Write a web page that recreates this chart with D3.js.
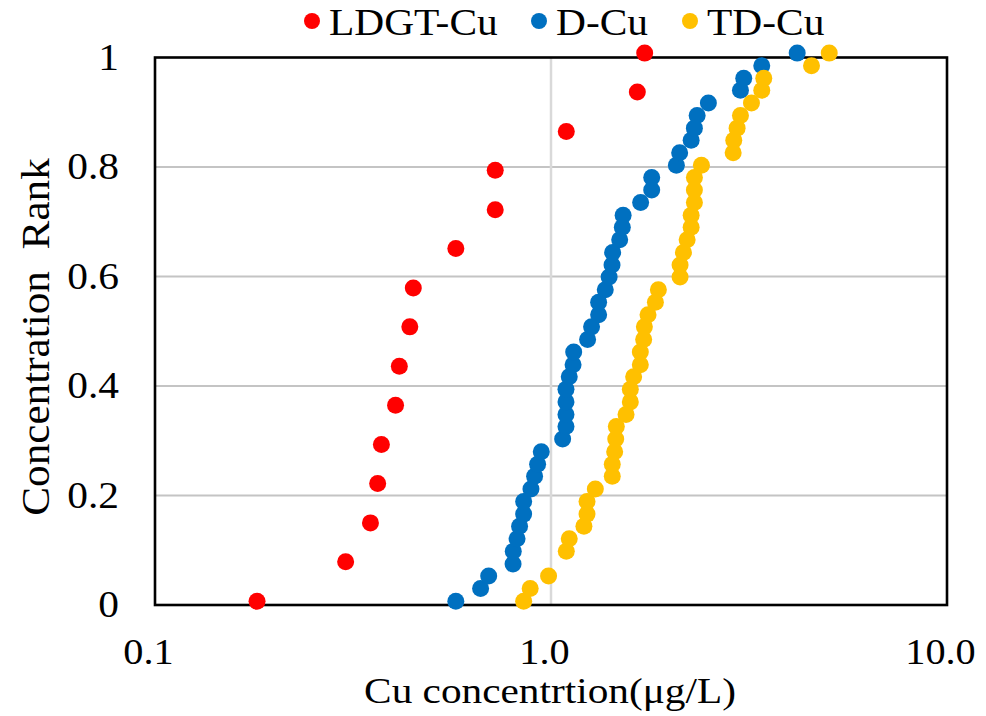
<!DOCTYPE html>
<html>
<head>
<meta charset="utf-8">
<script src="https://cdnjs.cloudflare.com/ajax/libs/d3/7.8.5/d3.min.js"></script>
<style>
  body { margin: 0; background: #fff; }
  text { font-family: "Liberation Serif", "Times New Roman", serif; fill: #000; }
</style>
</head>
<body>
<svg id="chart"></svg>
<script>
//DATA (concentration in ug/L, rank 0..1)
const ldgtConc = [0.181, 0.303, 0.350, 0.365, 0.373, 0.405, 0.414, 0.440, 0.449, 0.575, 0.723, 0.723, 1.093, 1.652, 1.724];
const ldgtRank = [0.007, 0.079, 0.150, 0.222, 0.293, 0.365, 0.436, 0.508, 0.579, 0.651, 0.722, 0.794, 0.865, 0.937, 1.008];

const dConc = [0.575, 0.664, 0.696, 0.802, 0.803, 0.821, 0.833, 0.853, 0.853, 0.890, 0.909, 0.925, 0.945,
               1.070, 1.091, 1.091, 1.091, 1.091, 1.112, 1.137, 1.141,
               1.237, 1.266, 1.319, 1.319, 1.371, 1.402, 1.426, 1.431, 1.491, 1.514, 1.521,
               1.684, 1.796, 1.796, 2.073, 2.113, 2.259, 2.302, 2.339, 2.497, 3.009, 3.067, 3.406, 4.185];
const dRank = [0.007, 0.030, 0.053, 0.075, 0.098, 0.121, 0.144, 0.166, 0.189, 0.212, 0.235, 0.257, 0.280,
               0.303, 0.326, 0.348, 0.371, 0.394, 0.417, 0.439, 0.462, 0.485, 0.508, 0.530, 0.553, 0.576,
               0.599, 0.621, 0.644, 0.667, 0.690, 0.712, 0.735, 0.758, 0.781, 0.803, 0.826, 0.849, 0.871,
               0.894, 0.917, 0.940, 0.962, 0.985, 1.008];

const tdConc = [0.853, 0.886, 0.986, 1.093, 1.112, 1.211, 1.233, 1.233, 1.294,
                1.428, 1.428, 1.448, 1.457, 1.462,
                1.547, 1.586, 1.586, 1.617, 1.681, 1.681, 1.714, 1.721, 1.758, 1.835, 1.867,
                2.118, 2.118, 2.160, 2.207, 2.259, 2.259, 2.302, 2.302, 2.302, 2.398,
                2.884, 2.894, 2.951, 3.009, 3.208, 3.406, 3.446, 4.548, 5.042];
const tdRank = [0.007, 0.030, 0.053, 0.098, 0.121, 0.144, 0.166, 0.189, 0.212, 0.235, 0.257, 0.280,
                0.303, 0.326, 0.348, 0.371, 0.394, 0.417, 0.439, 0.462, 0.485, 0.508, 0.530, 0.553, 0.576,
                0.599, 0.621, 0.644, 0.667, 0.690, 0.712, 0.735, 0.758, 0.781, 0.803, 0.826, 0.849, 0.871,
                0.894, 0.917, 0.940, 0.962, 0.985, 1.008];

const seriesNames = ["LDGT-Cu", "D-Cu", "TD-Cu"];
const xTicks = [0.1, 1, 10];
const xTickLabels = ["0.1", "1.0", "10.0"];
const yTicks = [0, 0.2, 0.4, 0.6, 0.8, 1];
const yTickLabels = ["0", "0.2", "0.4", "0.6", "0.8", "1"];

//SET CONSTANTS
const width = 986;
const height = 716;
const plot = {left: 155, right: 947, top: 57.5, bottom: 605};
const colors = ["#FF0000", "#0070C0", "#FFC000"];
const stretch = 1.12;   // the original glyphs are a bit wider than Times
const dotR = 8.5;

const svg = d3.select("#chart")
  .attr("width", width)
  .attr("height", height);

svg.append("rect").attr("width", width).attr("height", height).attr("fill", "#fff");

const xScale = d3.scaleLog().domain([0.1, 10]).range([plot.left, plot.right]);
const yScale = d3.scaleLinear().domain([0, 1]).range([plot.bottom, plot.top]);

//gridlines
svg.append("g").selectAll("line")
  .data(yTicks.filter(d => d > 0 && d < 1))
  .enter().append("line")
  .attr("x1", plot.left).attr("x2", plot.right)
  .attr("y1", d => yScale(d)).attr("y2", d => yScale(d))
  .attr("stroke", "#c4c4c4").attr("stroke-width", 2.2);

svg.append("g").selectAll("line")
  .data(xTicks.filter(d => d > 0.1 && d < 10))
  .enter().append("line")
  .attr("x1", d => xScale(d)).attr("x2", d => xScale(d))
  .attr("y1", plot.top).attr("y2", plot.bottom)
  .attr("stroke", "#d9d9d9").attr("stroke-width", 2.5);

//plot area border
svg.append("rect")
  .attr("x", plot.left).attr("y", plot.top)
  .attr("width", plot.right - plot.left).attr("height", plot.bottom - plot.top)
  .attr("fill", "none").attr("stroke", "#000").attr("stroke-width", 2.6);

//axes (labels only, the border does the lines)
const yAxis = d3.axisLeft(yScale)
  .tickValues(yTicks)
  .tickFormat((d, i) => yTickLabels[i])
  .tickSize(0)
  .tickPadding(36 / stretch);

svg.append("g")
  .attr("transform", "translate(" + plot.left + ",0)")
  .call(yAxis)
  .call(g => g.select(".domain").remove())
  .selectAll("text")
  .attr("font-size", 37)
  .attr("transform", "scale(" + stretch + ",1)");

const xAxis = d3.axisBottom(xScale)
  .tickValues(xTicks)
  .tickFormat((d, i) => xTickLabels[i])
  .tickSize(0)
  .tickPadding(33);

svg.append("g")
  .attr("transform", "translate(-7," + plot.bottom + ")")
  .call(xAxis)
  .call(g => g.select(".domain").remove())
  .selectAll("text")
  .attr("font-size", 36)
  .attr("transform", "scale(" + stretch + ",1)");

//axis titles
svg.append("text")
  .attr("text-anchor", "middle")
  .attr("font-size", 35)
  .attr("transform", "translate(550,703) scale(1.18,1)")
  .text("Cu concentrtion(\u03bcg/L)");

svg.append("g")
  .attr("transform", "translate(36,337) rotate(-90)")
  .append("text")
  .attr("text-anchor", "middle")
  .attr("dominant-baseline", "central")
  .attr("font-size", 40)
  .attr("transform", "scale(1.08,1)")
  .text("Concentration\u00a0 Rank");

//points, drawn in series order so yellow ends on top
const series = [
  {conc: ldgtConc, rank: ldgtRank},
  {conc: dConc, rank: dRank},
  {conc: tdConc, rank: tdRank}
];

series.forEach(function(s, i) {
  svg.append("g").selectAll("circle")
    .data(d3.zip(s.conc, s.rank))
    .enter().append("circle")
    .attr("cx", d => xScale(d[0]))
    .attr("cy", d => yScale(d[1]))
    .attr("r", dotR)
    .attr("fill", colors[i]);
});

//legend
const legendX = [329, 556, 707];
const legend = svg.append("g");
seriesNames.forEach(function(name, i) {
  legend.append("circle")
    .attr("cx", legendX[i] - 17)
    .attr("cy", 21)
    .attr("r", 8)
    .attr("fill", colors[i]);
  legend.append("text")
    .attr("transform", "scale(" + stretch + ",1)")
    .attr("x", legendX[i] / stretch)
    .attr("y", 35)
    .attr("font-size", 37)
    .text(name);
});
</script>
</body>
</html>
